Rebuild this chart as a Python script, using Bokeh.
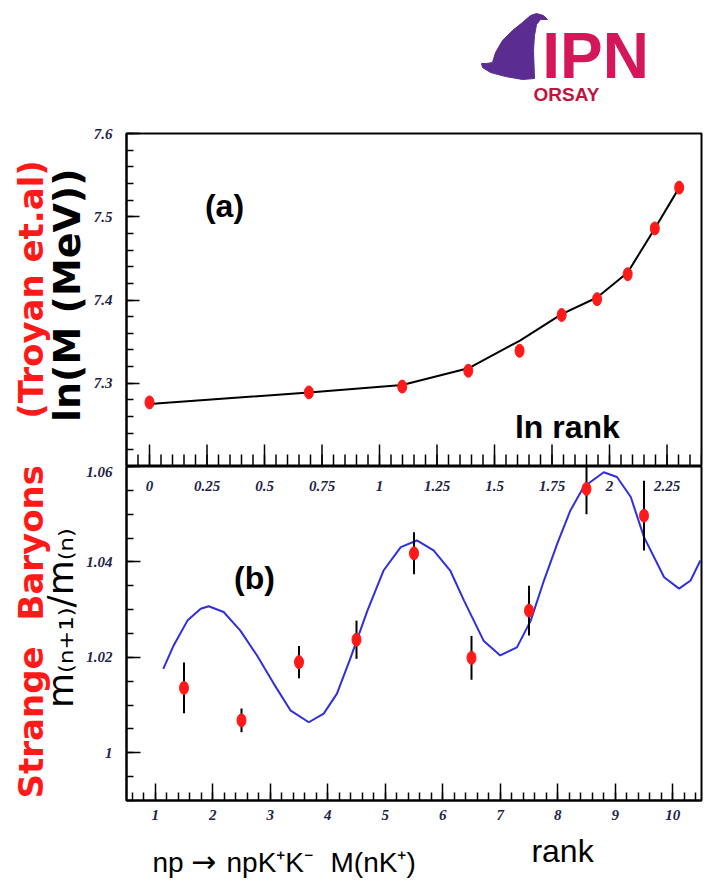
from bokeh.plotting import figure
from bokeh.layouts import column, row
from bokeh.models import Range1d, FixedTicker
from bokeh.embed import file_html
from bokeh.resources import INLINE
from bokeh.core.properties import value
import math

# ---------------- data: panel (a) ----------------
ln_rank = [0.0, 0.693, 1.099, 1.386, 1.609, 1.792, 1.946, 2.079, 2.197, 2.303]
ln_mass = [7.277, 7.289, 7.296, 7.315, 7.339, 7.382, 7.401, 7.431, 7.486, 7.535]
ln_mass_fit = [7.275, 7.289, 7.298, 7.318, 7.351, 7.383, 7.403, 7.433, 7.486, 7.535]

# ---------------- data: panel (b) ----------------
rank_mid = [1.5, 2.5, 3.5, 4.5, 5.5, 6.5, 7.5, 8.5, 9.5]
ratio = [1.0136, 1.0068, 1.0190, 1.0237, 1.0418, 1.0199, 1.0298, 1.0553, 1.0497]
ratio_err = [0.0053, 0.0025, 0.0034, 0.0040, 0.0044, 0.0046, 0.0052, 0.0053, 0.0073]

curve_rank = [1.14, 1.32, 1.56, 1.79, 1.93, 2.19, 2.48, 2.77, 3.06, 3.35, 3.67, 3.93,
              4.16, 4.40, 4.69, 4.97, 5.27, 5.55, 5.84, 6.13, 6.37, 6.71, 7.00, 7.29,
              7.53, 7.76, 7.99, 8.22, 8.45, 8.80, 9.03, 9.27, 9.50, 9.85, 10.11, 10.31, 10.48]
curve_ratio = [1.0176, 1.0225, 1.0277, 1.0302, 1.0307, 1.0295, 1.0256, 1.0204, 1.0145, 1.0089,
               1.0064, 1.0082, 1.0124, 1.0200, 1.0298, 1.0382, 1.0431, 1.0445, 1.0424, 1.0382,
               1.0319, 1.0235, 1.0204, 1.0221, 1.0277, 1.0361, 1.0438, 1.0508, 1.0557, 1.0588,
               1.0578, 1.0536, 1.0452, 1.0368, 1.0344, 1.0361, 1.0403]

# ---------------- ticks ----------------
lnrank_ticks = [0, 0.25, 0.5, 0.75, 1.0, 1.25, 1.5, 1.75, 2.0, 2.25]
lnrank_labels = ["0", "0.25", "0.5", "0.75", "1", "1.25", "1.5", "1.75", "2", "2.25"]
mass_ticks = [7.3, 7.4, 7.5, 7.6]
ratio_ticks = [1.0, 1.02, 1.04, 1.06]
rank_ticks = [1, 2, 3, 4, 5, 6, 7, 8, 9, 10]

lnrank_minor = [round(-0.05 + 0.05 * i, 3) for i in range(50)]
mass_minor = [round(7.2 + 0.02 * i, 3) for i in range(21)]
ratio_minor = [round(0.99 + 0.005 * i, 4) for i in range(15)]
rank_minor = [round(0.6 + 0.2 * i, 2) for i in range(50)]

# logo outline (decoration, pixel coordinates of the header strip)
sail_x = [536, 543, 547, 540, 536, 534, 533, 534, 522, 505, 490, 482, 481, 486, 492, 495, 502, 512, 522, 530]
sail_y = [13, 15, 19, 19, 24, 35, 50, 78, 79, 76, 72, 67, 63, 63, 62, 52, 40, 30, 22, 15]

RED = "#ff1a1a"
TICKC = "#1c2448"
TICKFONT = "Liberation Serif"


def strip(width, height):
    f = figure(width=width, height=height, x_range=Range1d(0, width), y_range=Range1d(height, 0),
               output_backend="svg", toolbar_location=None, title=None,
               min_border=0, outline_line_color=None)
    f.axis.visible = False
    f.grid.visible = False
    return f


def style_axis(ax, ticks, minor, tin, mtin, standoff):
    ax.ticker = FixedTicker(ticks=ticks, minor_ticks=minor)
    ax.major_tick_in = tin
    ax.major_tick_out = 0
    ax.minor_tick_in = mtin
    ax.minor_tick_out = 0
    ax.major_tick_line_width = 1.5
    ax.minor_tick_line_width = 1.5
    ax.axis_line_width = 2
    ax.major_label_text_font = TICKFONT
    ax.major_label_text_font_style = "bold italic"
    ax.major_label_text_font_size = "15px"
    ax.major_label_text_color = TICKC
    ax.major_label_standoff = standoff


# ---------------- logo strip ----------------
logo = strip(704, 120)
logo.patch(sail_x, sail_y, fill_color="#5b2d90", line_color="#5b2d90")
logo.text(x=[595], y=[55], text=["IPN"], text_font=value("Liberation Sans"),
          text_font_style="bold", text_font_size="64px", text_color="#d3175a",
          text_align="center", text_baseline="middle")
logo.text(x=[566], y=[94], text=["ORSAY"], text_font=value("Liberation Sans"),
          text_font_style="bold", text_font_size="19px", text_color="#c0153f",
          text_align="center", text_baseline="middle")

# ---------------- panel (a) ----------------
A_LEFT = 90
pa = figure(width=704 - A_LEFT, height=346, x_range=Range1d(-0.1, 2.4), y_range=Range1d(7.2, 7.6),
            output_backend="svg", toolbar_location=None, title=None,
            min_border_left=126 - A_LEFT, min_border_right=3, min_border_top=13, min_border_bottom=0)
pa.grid.visible = False
pa.outline_line_color = "black"
pa.outline_line_width = 2
pa.xaxis.visible = False
style_axis(pa.yaxis[0], mass_ticks, mass_minor, 13, 7, 14)

# ln(rank) ticks along the bottom edge of panel (a), pointing inward
px_per_unit = 333 / 0.4
pa.segment(x0=lnrank_ticks, y0=[7.2] * len(lnrank_ticks), x1=lnrank_ticks,
           y1=[7.2 + 22 / px_per_unit] * len(lnrank_ticks), line_color="black", line_width=1.5)
pa.segment(x0=lnrank_minor, y0=[7.2] * len(lnrank_minor), x1=lnrank_minor,
           y1=[7.2 + 12 / px_per_unit] * len(lnrank_minor), line_color="black", line_width=1.5)

pa.line(ln_rank, ln_mass_fit, line_color="black", line_width=2)
pa.ellipse(ln_rank, ln_mass, width=9, height=13, width_units="screen", height_units="screen",
           fill_color=RED, line_color=RED)
pa.text(x=[0.326], y=[7.513], text=["(a)"], text_font=value("Liberation Sans"), text_font_style="bold",
        text_font_size="32px", text_color="black", text_align="center", text_baseline="middle")
pa.text(x=[1.817], y=[7.247], text=["ln rank"], text_font=value("Liberation Sans"), text_font_style="bold",
        text_font_size="32px", text_color="black", text_align="center", text_baseline="middle")

sa = strip(A_LEFT, 346)
sa.text(x=[30], y=[162], text=["(Troyan et.al)"], angle=math.pi / 2, text_font=value("DejaVu Sans"),
        text_font_style="bold", text_font_size="34px", text_color=RED,
        text_align="center", text_baseline="middle")
sa.text(x=[66], y=[168], text=["ln(M (MeV))"], angle=math.pi / 2, text_font=value("DejaVu Sans"),
        text_font_style="bold", text_font_size="38px", text_color="black",
        text_align="center", text_baseline="middle")

# ---------------- panel (b) ----------------
B_LEFT = 82
pb = figure(width=704 - B_LEFT, height=368, x_range=Range1d(0.5, 10.5), y_range=Range1d(0.99, 1.06),
            output_backend="svg", toolbar_location=None, title=None,
            min_border_left=126 - B_LEFT, min_border_right=3, min_border_top=0, min_border_bottom=34)
pb.grid.visible = False
pb.outline_line_color = "black"
pb.outline_line_width = 2
pb.extra_x_ranges = {"lnr": Range1d(-0.1, 2.4)}
style_axis(pb.xaxis[0], rank_ticks, rank_minor, 17, 8, 9)
style_axis(pb.yaxis[0], ratio_ticks, ratio_minor, 14, 7, 14)
pb.yaxis[0].major_label_overrides = {1: "1"}

# ln(rank) scale labels of panel (a), printed just inside panel (b)
pb.text(x=lnrank_ticks, y=[1.056] * len(lnrank_ticks), text=lnrank_labels, x_range_name="lnr",
        text_font=value(TICKFONT), text_font_style="bold italic", text_font_size="15px",
        text_color=TICKC, text_align="center", text_baseline="middle")

pb.line(curve_rank, curve_ratio, line_color="#2f2fe0", line_width=2)
err_lo = [v - e for v, e in zip(ratio, ratio_err)]
err_hi = [v + e for v, e in zip(ratio, ratio_err)]
pb.segment(x0=rank_mid, y0=err_lo, x1=rank_mid, y1=err_hi, line_color="black", line_width=2)
pb.ellipse(rank_mid, ratio, width=9, height=13, width_units="screen", height_units="screen",
           fill_color=RED, line_color=RED)
pb.text(x=[2.726], y=[1.0367], text=["(b)"], text_font=value("Liberation Sans"), text_font_style="bold",
        text_font_size="32px", text_color="black", text_align="center", text_baseline="middle")

sb = strip(B_LEFT, 368)
sb.text(x=[30, 30], y=[84, 282], text=["Baryons", "Strange"], angle=math.pi / 2,
        text_font=value("DejaVu Sans"), text_font_style="bold", text_font_size="34px",
        text_color=RED, text_align="center", text_baseline="middle")
sb.text(x=[60], y=[167], text=["m₍ₙ₊₁₎/m₍ₙ₎"], angle=math.pi / 2, text_font=value("DejaVu Sans"),
        text_font_size="36px", text_color="black", text_align="center", text_baseline="middle")

# ---------------- bottom caption strip ----------------
bot = strip(704, 48)
bot.text(x=[152, 226, 330], y=[28, 28, 28], text=["np", "npK⁺K⁻", "M(nK⁺)"],
         text_font=value("Liberation Sans"), text_font_size="28px", text_color="black",
         text_align="left", text_baseline="middle")
bot.text(x=[203], y=[27], text=["→"], text_font=value("DejaVu Sans"), text_font_size="30px",
         text_color="black", text_align="center", text_baseline="middle")
bot.text(x=[562], y=[16], text=["rank"], text_font=value("Liberation Sans"),
         text_font_size="32px", text_color="black", text_align="center", text_baseline="middle")

layout = column(logo, row(sa, pa, spacing=0), row(sb, pb, spacing=0), bot, spacing=0)
open("out.html", "w").write(file_html(layout, INLINE))
